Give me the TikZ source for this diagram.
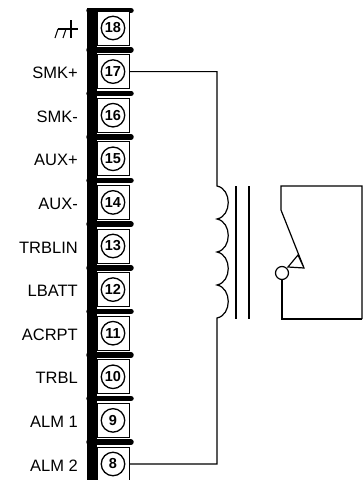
\documentclass[tikz,border=0pt]{standalone}
\usepackage{fontspec}
\setmainfont{Liberation Sans}
\begin{document}
\begin{tikzpicture}[x=1pt,y=-1pt,
 lbl/.style={anchor=east,font=\fontsize{16.5}{16.5}\selectfont,inner sep=0pt},
 tbox/.style={draw=black,line width=0.8pt,fill=white,minimum width=32pt,minimum height=34pt,inner sep=0pt},
 tnum/.style={circle,draw=black,line width=1.3pt,minimum size=23.5pt,inner sep=0pt,font=\bfseries\fontsize{14.5}{14.5}\selectfont},
 sepbar/.style={line width=5.5pt,line cap=round},
 wire/.style={line width=1.2pt}]
\useasboundingbox (0,0) rectangle (364,480);
% black strip of terminal block
\fill (87,8) rectangle (97,480);
\draw[sepbar] (89,10.5) -- (131,10.5);
\foreach \n/\t [count=\k from 0] in {18/,17/SMK+,16/SMK-,15/AUX+,14/AUX-,13/TRBLIN,12/LBATT,11/ACRPT,10/TRBL,9/ALM 1,8/ALM 2}{
  \pgfmathsetmacro{\yy}{28+43.6*\k}
  \node[tbox] (b\n) at (113,\yy) {};
  \node[tnum] (t\n) at (113,\yy) {\n};
  \node[lbl] (l\n) at (78,\yy+1.5) {\t};
  \ifnum\n>8
    \draw[sepbar] (89,\yy+21.8) -- (131,\yy+21.8);
  \fi
}
% chassis ground symbol
\draw[line width=1.1pt] (58,29) -- (78,29);
\draw[line width=1.1pt] (58,29) -- (55,38);
\draw[line width=1.1pt] (66,29) -- (63,38);
\draw[line width=1.1pt] (71,20) -- (71,38);
% coil
\coordinate (ct) at (217,186);
\coordinate (cb) at (217,318);
\draw[wire] (b17.east) -| (ct)
  .. controls (232,189) and (232,216) .. (217,219)
  .. controls (232,222) and (232,249) .. (217,252)
  .. controls (232,255) and (232,282) .. (217,285)
  .. controls (232,288) and (232,315) .. (cb)
  |- (b8.east);
% core
\draw[wire] (236,186) -- (236,319);
\draw[wire] (249,186) -- (249,319);
% relay contact
\draw[wire] (362,319) -- (362,186) -- (281,186) -- (281,210) -- (304,268) -- (288,267) -- (298,255) -- (304,268);
\draw[wire] (282,273) circle (6.5);
\draw[wire] (282,279.5) -- (282,319) -- (362,319);
\end{tikzpicture}
\end{document}
